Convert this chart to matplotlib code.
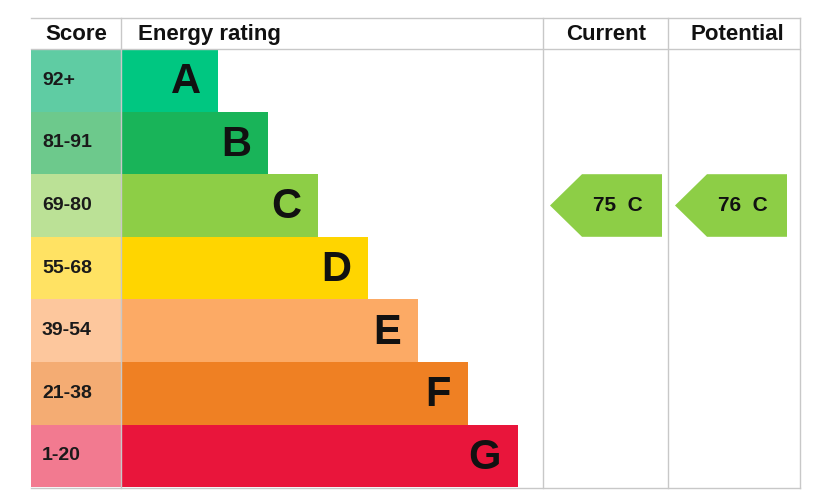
import matplotlib.pyplot as plt
from matplotlib.patches import Rectangle, Polygon

letters = ["A", "B", "C", "D", "E", "F", "G"]
score_labels = ["92+", "81-91", "69-80", "55-68", "39-54", "21-38", "1-20"]
band_min = [92, 81, 69, 55, 39, 21, 1]
bar_colors = ["#00c781", "#19b459", "#8dce46", "#ffd500", "#fcaa65", "#ef8023", "#e9153b"]
score_colors = ["#5fcca3", "#6dc98c", "#bbe196", "#ffe263", "#fdc79d", "#f4ac73", "#f27a90"]
current = 75
potential = 76

W, H = 828, 491
fig = plt.figure(figsize=(W / 100, H / 100), dpi=100)
ax = fig.add_axes([0, 0, 1, 1])
ax.set_xlim(0, W)
ax.set_ylim(H, 0)
ax.axis("off")

left, score_r, cur_l, pot_l, right = 31, 121, 543, 668, 800
top, head_b, row_h = 18, 49, 62.6
grid = "#c8c8c8"
font = "Liberation Sans"

for i, (let, sl) in enumerate(zip(letters, score_labels)):
    y0 = head_b + i * row_h
    ax.add_patch(Rectangle((left, y0), score_r - left, row_h, color=score_colors[i], lw=0))
    x_end = 218 + 50 * i
    ax.add_patch(Rectangle((score_r, y0), x_end - score_r, row_h, color=bar_colors[i], lw=0))
    ax.text(42, y0 + row_h / 2, sl, ha="left", va="center", fontsize=14,
            fontweight="bold", family=font, color="#1a1a1a")
    ax.text(x_end - 17, y0 + row_h / 2 + 2, let, ha="right", va="center",
            fontsize=30, fontweight="bold", family=font, color="#111111")


def band_index(v):
    for i, m in enumerate(band_min):
        if v >= m:
            return i
    return len(band_min) - 1


def arrow(x0, x1, v):
    i = band_index(v)
    y0 = head_b + i * row_h
    tip = 32
    ax.add_patch(Polygon([(x0, y0 + row_h / 2), (x0 + tip, y0), (x1, y0), (x1, y0 + row_h),
                          (x0 + tip, y0 + row_h)], closed=True, color=bar_colors[i], lw=0))
    ax.text((x0 + x1) / 2 + 12, y0 + row_h / 2, f"{v}  {letters[i]}", ha="center",
            va="center", fontsize=15, fontweight="bold", family=font, color="#111111")


arrow(550, 662, current)
arrow(675, 787, potential)

# grid lines
ax.plot([left, right], [top, top], color=grid, lw=1)
ax.plot([left, right], [head_b, head_b], color=grid, lw=1)
ax.plot([left, right], [488, 488], color=grid, lw=1)
for x in [score_r, cur_l, pot_l, right]:
    ax.plot([x, x], [top, 488], color=grid, lw=1)

hy = (top + head_b) / 2 + 1
for x, t in [(76, "Score"), (138, "Energy rating"), (606, "Current"), (737, "Potential")]:
    ax.text(x, hy, t, ha="left" if x == 138 else "center", va="center", fontsize=16,
            fontweight="bold", family=font, color="#111111")

fig.savefig("out.png", dpi=100)
